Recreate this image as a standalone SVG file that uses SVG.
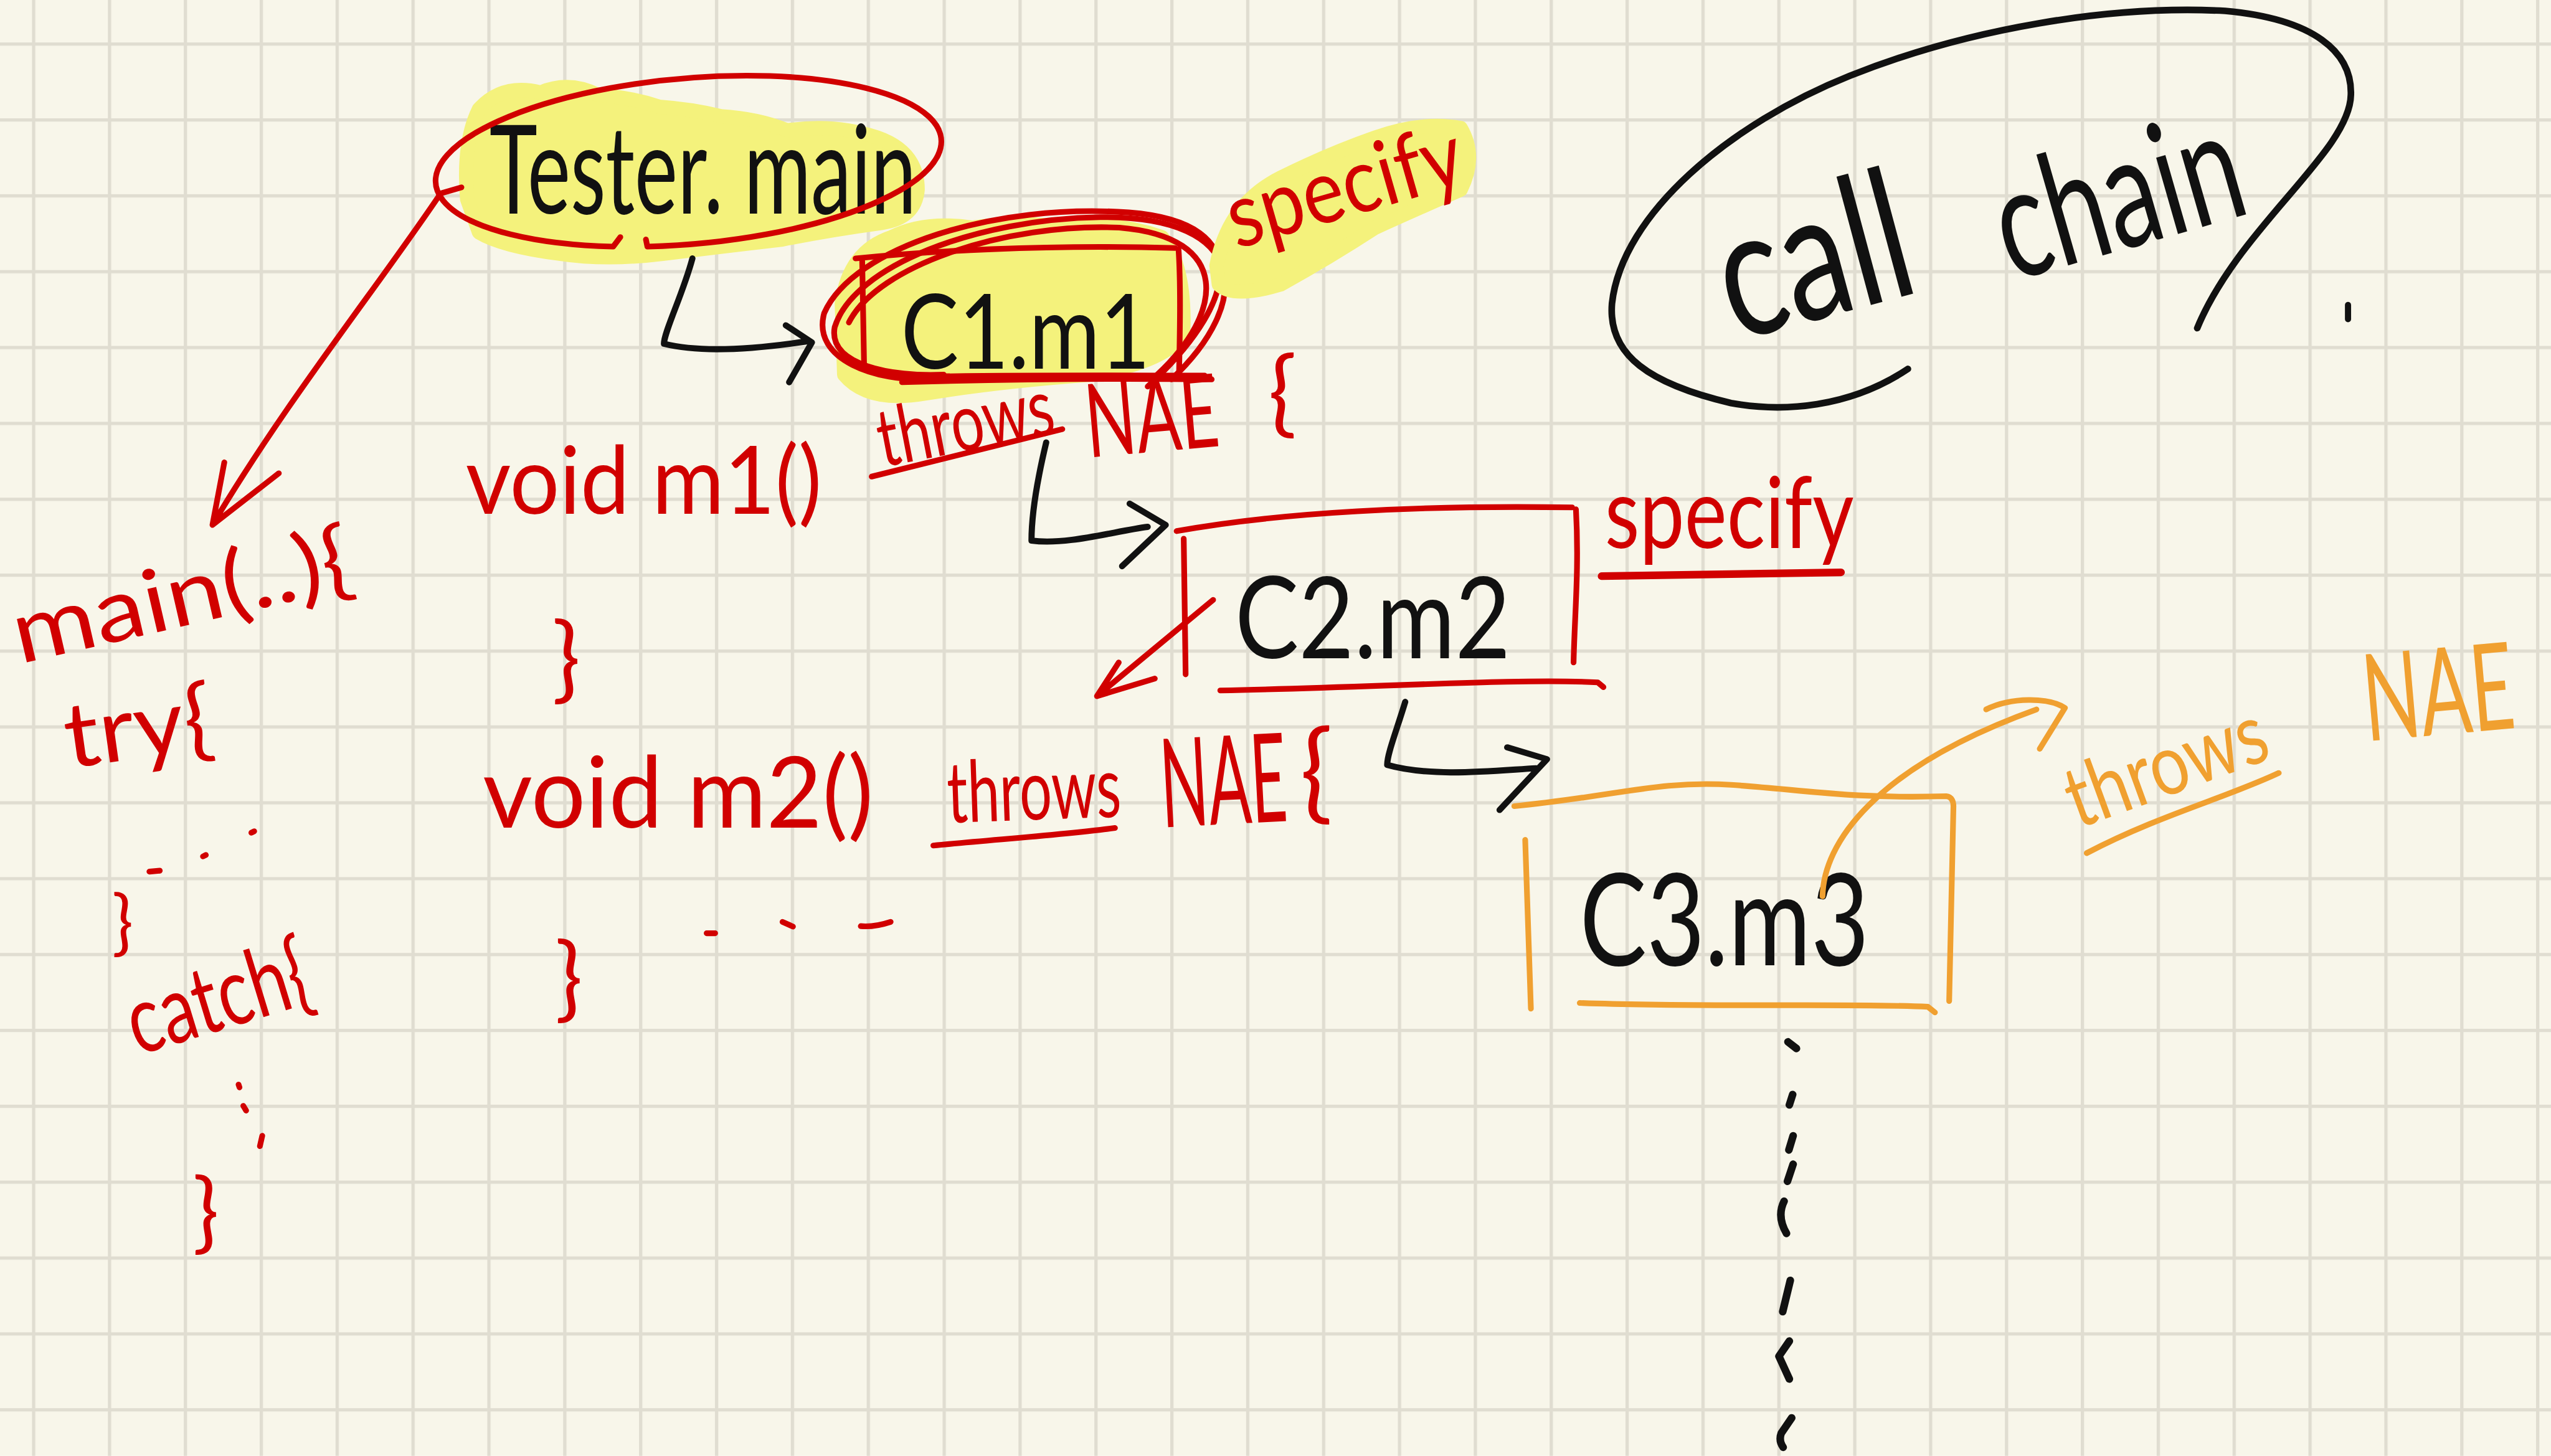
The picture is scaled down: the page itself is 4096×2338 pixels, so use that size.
<svg xmlns="http://www.w3.org/2000/svg" width="4096" height="2338" viewBox="0 0 4096 2338">
<defs>
<style>
.hw{font-family:"Lato","Liberation Sans",Arial,sans-serif;font-weight:400}
.tr{fill:#d10000}.tk{fill:#111111}.to{fill:#f0a030}
.lr{fill:none;stroke:#d10000;stroke-width:12;stroke-linecap:round;stroke-linejoin:round}
.lk{fill:none;stroke:#111111;stroke-width:13;stroke-linecap:round;stroke-linejoin:round}
.lo{fill:none;stroke:#f0a030;stroke-width:12;stroke-linecap:round;stroke-linejoin:round}
.hl{fill:#f4f27c;stroke:#f4f27c;stroke-width:30;stroke-linejoin:round}
</style>
<pattern id="grid" x="67.5" y="89.5" width="160" height="160" patternUnits="userSpaceOnUse">
<path d="M3.5 0V160M0 3.5H160" stroke="#e0ddd1" stroke-width="7" fill="none"/>
</pattern>
</defs>
<g transform="scale(0.76148)">
<!-- paper -->
<rect width="5379" height="3070" fill="#f8f6ea"/>
<rect width="5379" height="3070" fill="url(#grid)"/>

<!-- Tester.main -->
<g id="tester-main">
<path class="hl" d="M985,420 Q975,300 1010,230 Q1060,175 1140,195 Q1200,170 1260,200 Q1330,205 1390,225 Q1460,230 1520,245 Q1600,250 1660,275 Q1760,260 1850,290 Q1935,320 1935,400 Q1930,460 1860,470 Q1750,485 1650,505 Q1520,520 1400,535 Q1280,550 1180,535 Q1060,520 1010,490 Z"/>
<text class="hw tk" x="1032" y="450" font-size="260" textLength="900" lengthAdjust="spacingAndGlyphs">Tester. main</text>
<path class="lr" d="M1365,520 A535 175 -5 1 0 1293,520 M1293,520 l15,-20 M1362,505 l3,15"/>
</g>

<!-- C1.m1 -->
<g id="c1-m1">
<path class="hl" d="M1775,640 Q1790,530 1880,500 Q1950,465 2050,480 Q2150,465 2250,480 Q2350,465 2450,500 Q2500,560 2495,700 Q2470,760 2300,790 Q2100,805 1950,830 Q1830,850 1780,790 Z"/>
<text class="hw tk" x="1900" y="778" font-size="220" textLength="525" lengthAdjust="spacingAndGlyphs">C1.m1</text>
<path class="lr" d="M1804,545 C1950,530 2200,515 2478,523"/>
<path class="lr" d="M2485,525 C2490,600 2488,700 2486,795"/>
<path class="lr" d="M1818,550 L1822,772"/>
<path class="lr" d="M1902,806 C2100,800 2350,798 2555,800 M1910,795 C2150,790 2400,792 2540,792"/>
<path class="lr" d="M2420,815 C2600,650 2660,470 2380,448 C2100,428 1800,520 1738,660 C1710,760 1850,805 1960,800"/>
<path class="lr" d="M2470,800 C2640,640 2640,455 2320,458 C2060,462 1800,560 1760,690 C1745,770 1880,795 1990,790"/>
<path class="lr" d="M2440,790 C2580,660 2600,500 2360,480 C2120,470 1850,560 1790,680"/>
</g>

<!-- specify over C1.m1 -->
<g id="specify-1">
<path class="hl" d="M2565,560 Q2590,430 2700,375 Q2800,325 2900,290 Q3000,255 3080,270 Q3115,330 3080,400 Q3000,435 2900,480 Q2800,545 2700,600 Q2600,630 2570,600 Z"/>
<text class="hw tr" x="2607" y="525" font-size="190" textLength="510" lengthAdjust="spacingAndGlyphs" transform="rotate(-16 2607 525)">specify</text>
</g>

<!-- main method -->
<g id="main-code">
<text class="hw tr" x="42" y="1400" font-size="185" textLength="730" lengthAdjust="spacingAndGlyphs" transform="rotate(-13 42 1400)">main(..){</text>
<text class="hw tr" x="145" y="1620" font-size="190" textLength="315" lengthAdjust="spacingAndGlyphs" transform="rotate(-8 145 1620)">try{</text>
<path class="lr" d="M315,1838 l22,-2 M428,1806 l6,-3 M530,1756 l6,-3"/>
<text class="hw tr" x="236" y="1996" font-size="150">}</text>
<text class="hw tr" x="290" y="2226" font-size="200" textLength="395" lengthAdjust="spacingAndGlyphs" transform="rotate(-17 290 2226)">catch{</text>
<path class="lr" d="M503,2287 l2,6 M513,2332 l6,10 M553,2395 l-5,22"/>
<text class="hw tr" x="406" y="2620" font-size="185">}</text>
</g>

<!-- void m1() -->
<g id="m1-code">
<text class="hw tr" x="982" y="1083" font-size="200" textLength="751" lengthAdjust="spacingAndGlyphs">void m1()</text>
<text class="hw tr" x="1862" y="985" font-size="170" textLength="375" lengthAdjust="spacingAndGlyphs" transform="rotate(-11 1862 985)">throws</text>
<path class="lr" d="M1838,1005 L2240,905"/>
<text class="hw tr" x="2295" y="965" font-size="215" textLength="281" lengthAdjust="spacingAndGlyphs" transform="rotate(-5 2295 965)">NAE</text>
<text class="hw tr" x="2674" y="896" font-size="200">{</text>
<text class="hw tr" x="1164" y="1456" font-size="200">}</text>
</g>

<!-- void m2() -->
<g id="m2-code">
<text class="hw tr" x="1018" y="1745" font-size="210" textLength="824" lengthAdjust="spacingAndGlyphs">void m2()</text>
<text class="hw tr" x="1999" y="1735" font-size="180" textLength="367" lengthAdjust="spacingAndGlyphs" transform="rotate(-2 1999 1735)">throws</text>
<path class="lr" d="M1968,1783 C2100,1770 2250,1760 2351,1746"/>
<text class="hw tr" x="2451" y="1745" font-size="260" textLength="267" lengthAdjust="spacingAndGlyphs" transform="rotate(-3 2451 1745)">NAE</text>
<text class="hw tr" x="2741" y="1706" font-size="230">{</text>
<text class="hw tr" x="1170" y="2129" font-size="195">}</text>
<path class="lr" d="M1490,1968 l18,0 M1650,1944 l22,10 M1815,1953 C1840,1955 1860,1950 1878,1944"/>
</g>

<!-- C2.m2 -->
<g id="c2-m2">
<text class="hw tk" x="2604" y="1388" font-size="240" textLength="581" lengthAdjust="spacingAndGlyphs">C2.m2</text>
<path class="lr" d="M2481,1120 C2700,1080 3000,1065 3315,1070"/>
<path class="lr" d="M3323,1074 C3330,1200 3320,1300 3318,1397"/>
<path class="lr" d="M2496,1136 L2500,1422"/>
<path class="lr" d="M2573,1456 C2900,1450 3200,1430 3369,1439 l12,10"/>
</g>

<!-- specify beside C2.m2 -->
<g id="specify-2">
<text class="hw tr" x="3384" y="1155" font-size="210" textLength="525" lengthAdjust="spacingAndGlyphs">specify</text>
<path class="lr" style="stroke-width:16" d="M3377,1215 L3882,1207"/>
</g>

<!-- C3.m3 -->
<g id="c3-m3">
<text class="hw tk" x="3331" y="2035" font-size="270" textLength="610" lengthAdjust="spacingAndGlyphs">C3.m3</text>
<path class="lo" d="M3193,1700 C3400,1680 3500,1645 3650,1655 C3800,1665 3900,1685 4104,1679 C4115,1680 4119,1690 4119,1700"/>
<path class="lo" d="M4119,1700 L4110,2111"/>
<path class="lo" d="M3216,1771 L3228,2127"/>
<path class="lo" d="M3331,2115 C3600,2125 3900,2115 4065,2123 l15,12"/>
</g>

<!-- throws NAE (orange) -->
<g id="throws-nae">
<text class="hw to" x="4381" y="1748" font-size="180" textLength="440" lengthAdjust="spacingAndGlyphs" transform="rotate(-20 4381 1748)">throws</text>
<path class="lo" d="M4400,1799 C4550,1720 4700,1680 4805,1630"/>
<text class="hw to" x="0" y="0" font-size="255" transform="translate(4990 1563) rotate(-5) scale(0.62 1)">NAE</text>
</g>

<!-- call chain -->
<g id="call-chain">
<path class="lk" style="stroke-width:14" d="M4023,778 C3900,860 3760,870 3650,850 C3480,810 3390,750 3399,640 C3420,450 3650,260 3900,160 C4150,60 4450,10 4692,23 C4880,40 4960,110 4957,200 C4955,320 4720,480 4633,692"/>
<text class="hw tk" x="3658" y="720" font-size="380" textLength="410" lengthAdjust="spacingAndGlyphs" transform="rotate(-15 3658 720)">call</text>
<text class="hw tk" x="4241" y="594" font-size="330" textLength="530" lengthAdjust="spacingAndGlyphs" transform="rotate(-16 4241 594)">chain</text>
<path class="lk" d="M4951,643 l0,30"/>
</g>

<!-- connectors -->
<g id="connectors">
<!-- Tester.main -> main(..) -->
<path class="lr" d="M973,395 L929,408 C800,600 600,850 448,1107 M473,975 L448,1107 L588,998"/>
<!-- Tester.main -> C1.m1 -->
<path class="lk" d="M1460,545 C1440,620 1400,700 1400,725 C1480,745 1600,735 1700,720 M1657,686 L1712,722 L1664,806"/>
<!-- C1.m1 -> C2.m2 -->
<path class="lk" d="M2206,933 C2190,1000 2175,1080 2175,1140 C2250,1150 2350,1120 2420,1111 M2382,1062 L2458,1107 L2366,1194"/>
<!-- C2.m2 -> C3.m3 -->
<path class="lk" d="M2963,1480 C2945,1540 2925,1590 2925,1613 C3020,1640 3150,1625 3239,1620 M3178,1576 L3262,1601 L3162,1708"/>
<!-- C2.m2 back to m2 -->
<path class="lr" d="M2558,1265 L2313,1468 M2359,1397 L2313,1468 L2435,1431"/>
<!-- C3.m3 -> throws NAE -->
<path class="lo" d="M3843,1890 C3845,1780 3950,1620 4294,1496 M4188,1496 C4240,1470 4320,1470 4354,1493 L4301,1579"/>
<!-- chain continues below C3.m3 -->
<path class="lk" style="stroke-width:16" d="M3770,2197 l18,14 M3780,2308 l-7,22 M3781,2395 l-9,30 M3781,2455 l-12,36 M3762,2533 q-16,32 5,68 M3775,2700 l-16,66 M3773,2828 l-22,32 l22,48 M3778,2990 l-22,32 q-6,16 4,30"/>
</g>
</g>
</svg>
